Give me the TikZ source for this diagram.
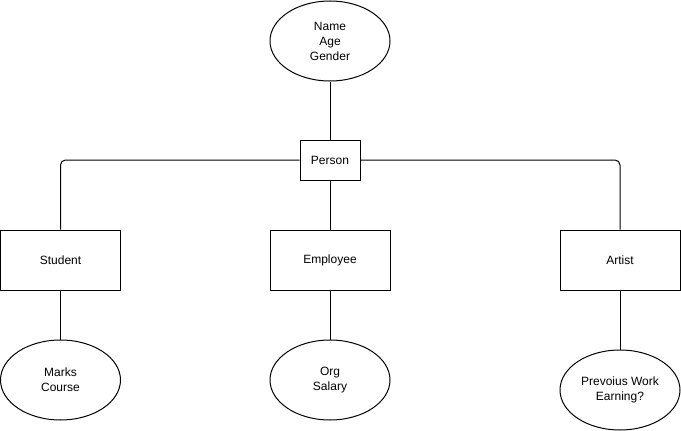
\documentclass[tikz,border=0pt]{standalone}
\usepackage{fontspec}
\setmainfont{Liberation Sans}
\usepackage{tikz}
\usetikzlibrary{shapes.geometric}

\begin{document}
\begin{tikzpicture}[x=1pt,y=-1pt,
  every node/.style={font=\fontsize{12}{15}\selectfont},
  entity/.style={draw,line width=1pt,minimum width=120pt,minimum height=60pt,inner sep=0pt},
  attrib/.style={draw,ellipse,line width=1pt,minimum width=120pt,minimum height=80pt,inner sep=0pt,align=center},
  link/.style={line width=1pt}]
\useasboundingbox (0,0) rectangle (681,431);

% definitions
\node[attrib] (PersonAttr) at (330,41) {Name\\Age\\Gender};
\node[entity,minimum width=60pt,minimum height=40pt] (Person) at (330,160) {Person};
\node[entity] (Student) at (60.5,260) {Student};
\node[entity] (Employee) at (330,260) {Employee};
\node[entity] (Artist) at (620,260) {Artist};
\node[attrib] (StudentAttr) at (60.5,380) {Marks\\Course};
\node[attrib] (EmployeeAttr) at (330,380) {Org\\Salary};
\node[attrib] (ArtistAttr) at (620,390) {Prevoius Work\\Earning?};

% drawing
\draw[link] (PersonAttr) -- (Person);
\draw[link,rounded corners=5pt] (Person.west) -| (Student.north);
\draw[link,rounded corners=5pt] (Person.east) -| (Artist.north);
\draw[link] (Person) -- (Employee);
\draw[link] (Student) -- (StudentAttr);
\draw[link] (Employee) -- (EmployeeAttr);
\draw[link] (Artist) -- (ArtistAttr);
\end{tikzpicture}
\end{document}
